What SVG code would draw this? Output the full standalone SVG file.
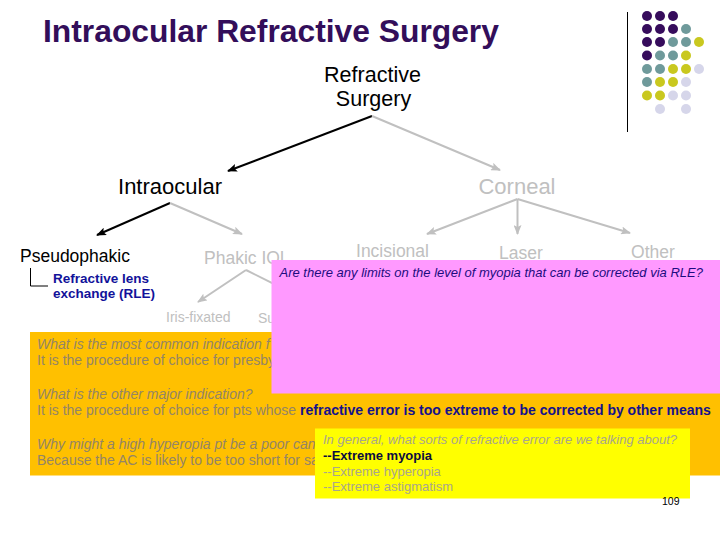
<svg xmlns="http://www.w3.org/2000/svg" width="720" height="540" viewBox="0 0 720 540">
<defs>
<style>
text{font-family:"Liberation Sans",Arial,sans-serif}
.node{font-size:17.5px;fill:#c0c0c0}
.blk{fill:#000}
.conn-b{stroke:#000;stroke-width:2;fill:none}
.conn-g{stroke:#c0c0c0;stroke-width:2;fill:none}
.og{font-size:14px;fill:#948566}
.yg{font-size:13px;fill:#a9a68b}
.it{font-style:italic}
.pu{fill:#360c5c}.te{fill:#6f9a9b}.ye{fill:#c9c81f}.la{fill:#d6d6ea}
</style>
<marker id="ab" markerUnits="userSpaceOnUse" markerWidth="10" markerHeight="8" refX="9" refY="4" orient="auto"><path d="M0,0 L10,4 L0,8 L2,4 z" fill="#000"/></marker>
<marker id="ag" markerUnits="userSpaceOnUse" markerWidth="10" markerHeight="8" refX="9" refY="4" orient="auto"><path d="M0,0 L10,4 L0,8 L2,4 z" fill="#c0c0c0"/></marker>
</defs>
<rect width="720" height="540" fill="#fff"/>
<text x="43" y="42" font-size="31.8" font-weight="bold" fill="#330e5a">Intraocular Refractive Surgery</text>
<g id="logo">
<line x1="627.5" y1="12" x2="627.5" y2="132" stroke="#000" stroke-width="1"/>
<circle class="pu" cx="647" cy="16" r="5"/><circle class="pu" cx="660" cy="16" r="5"/><circle class="pu" cx="673" cy="16" r="5"/>
<circle class="pu" cx="647" cy="29" r="5"/><circle class="pu" cx="660" cy="29" r="5"/><circle class="pu" cx="673" cy="29" r="5"/><circle class="te" cx="686" cy="29" r="5"/>
<circle class="pu" cx="647" cy="42" r="5"/><circle class="pu" cx="660" cy="42" r="5"/><circle class="te" cx="673" cy="42" r="5"/><circle class="te" cx="686" cy="42" r="5"/><circle class="ye" cx="699" cy="42" r="5"/>
<circle class="pu" cx="647" cy="55.5" r="5"/><circle class="te" cx="660" cy="55.5" r="5"/><circle class="te" cx="673" cy="55.5" r="5"/><circle class="ye" cx="686" cy="55.5" r="5"/>
<circle class="te" cx="647" cy="69" r="5"/><circle class="te" cx="660" cy="69" r="5"/><circle class="ye" cx="673" cy="69" r="5"/><circle class="ye" cx="686" cy="69" r="5"/><circle class="la" cx="699" cy="69" r="5"/>
<circle class="te" cx="647" cy="82" r="5"/><circle class="ye" cx="660" cy="82" r="5"/><circle class="ye" cx="673" cy="82" r="5"/><circle class="la" cx="686" cy="82" r="5"/>
<circle class="ye" cx="647" cy="95.5" r="5"/><circle class="ye" cx="660" cy="95.5" r="5"/><circle class="la" cx="673" cy="95.5" r="5"/><circle class="la" cx="686" cy="95.5" r="5"/>
<circle class="la" cx="660" cy="109" r="5"/><circle class="la" cx="686" cy="109" r="5"/>
</g>
<g id="connectors">
<line class="conn-b" x1="372" y1="116" x2="228" y2="171" marker-end="url(#ab)"/>
<line class="conn-g" x1="372" y1="116" x2="500" y2="170" marker-end="url(#ag)"/>
<line class="conn-b" x1="170" y1="203" x2="97" y2="235" marker-end="url(#ab)"/>
<line class="conn-g" x1="170" y1="203" x2="242" y2="234" marker-end="url(#ag)"/>
<line class="conn-g" x1="517.5" y1="199" x2="427" y2="234" marker-end="url(#ag)"/>
<line class="conn-g" x1="517.5" y1="199" x2="517.5" y2="234" marker-end="url(#ag)"/>
<line class="conn-g" x1="517.5" y1="199" x2="630" y2="233" marker-end="url(#ag)"/>
<line class="conn-g" x1="246" y1="270" x2="198" y2="302" marker-end="url(#ag)"/>
<line class="conn-g" x1="246" y1="270" x2="290" y2="292"/>
<path d="M30.5,268 V286 H48" stroke="#000" stroke-width="1" fill="none"/>
</g>
<g id="n-refractive"><text x="372.5" y="81.5" font-size="21.5" text-anchor="middle" class="blk">Refractive</text><text x="373.5" y="105.5" font-size="21.5" text-anchor="middle" class="blk">Surgery</text></g>
<g id="n-intraocular"><text x="170" y="194" font-size="22" text-anchor="middle" class="blk">Intraocular</text></g>
<g id="n-corneal"><text x="517" y="194" font-size="22" text-anchor="middle" fill="#c0c0c0">Corneal</text></g>
<g id="n-pseudophakic"><text x="20" y="262" font-size="17.5" class="blk">Pseudophakic</text></g>
<g id="n-rle"><text font-size="13.5" font-weight="bold" fill="#12129a"><tspan x="53" y="283">Refractive lens</tspan><tspan x="53" y="297.5">exchange (RLE)</tspan></text></g>
<g id="n-phakic"><text x="204" y="264" class="node">Phakic IOL</text></g>
<g id="n-incisional"><text x="392.5" y="257" class="node" text-anchor="middle">Incisional</text></g>
<g id="n-laser"><text x="521" y="258.5" class="node" text-anchor="middle">Laser</text></g>
<g id="n-other"><text x="653" y="257.5" class="node" text-anchor="middle">Other</text></g>
<g id="n-iris"><text x="166" y="322" font-size="14" fill="#c0c0c0">Iris-fixated</text></g>
<g id="n-su"><text x="258" y="322.5" font-size="14" fill="#c0c0c0">Su</text></g>
<g id="orange">
<rect x="30" y="332" width="690" height="143.5" fill="#ffc000"/>
<text x="37" y="348.5" class="og it">What is the most common indication f</text>
<text x="37" y="365" class="og">It is the procedure of choice for presby</text>
<text x="37" y="398.5" class="og it">What is the other major indication?</text>
<text x="37" y="415" class="og">It is the procedure of choice for pts whose <tspan font-weight="bold" fill="#14128c">refractive error is too extreme to be corrected by other means</tspan></text>
<text x="37" y="448.5" class="og it">Why might a high hyperopia pt be a poor can</text>
<text x="37" y="465" class="og">Because the AC is likely to be too short for sa</text>
</g>
<g id="pink">
<rect x="271.5" y="260" width="448.5" height="133.5" fill="#ff99ff"/>
<text x="279.5" y="276.5" font-size="13" font-style="italic" fill="#1c0c80">Are there any limits on the level of myopia that can be corrected via RLE?</text>
</g>
<g id="yellow">
<rect x="315" y="428.5" width="375" height="70" fill="#ffff00"/>
<text x="323" y="444" class="yg it">In general, what sorts of refractive error are we talking about?</text>
<text x="323" y="459.5" font-size="13" font-weight="bold" fill="#0c0c40">--Extreme myopia</text>
<text x="323" y="475.5" class="yg">--Extreme hyperopia</text>
<text x="323" y="491" class="yg">--Extreme astigmatism</text>
</g>
<text x="662" y="505" font-size="10.5" fill="#000">109</text>
</svg>
